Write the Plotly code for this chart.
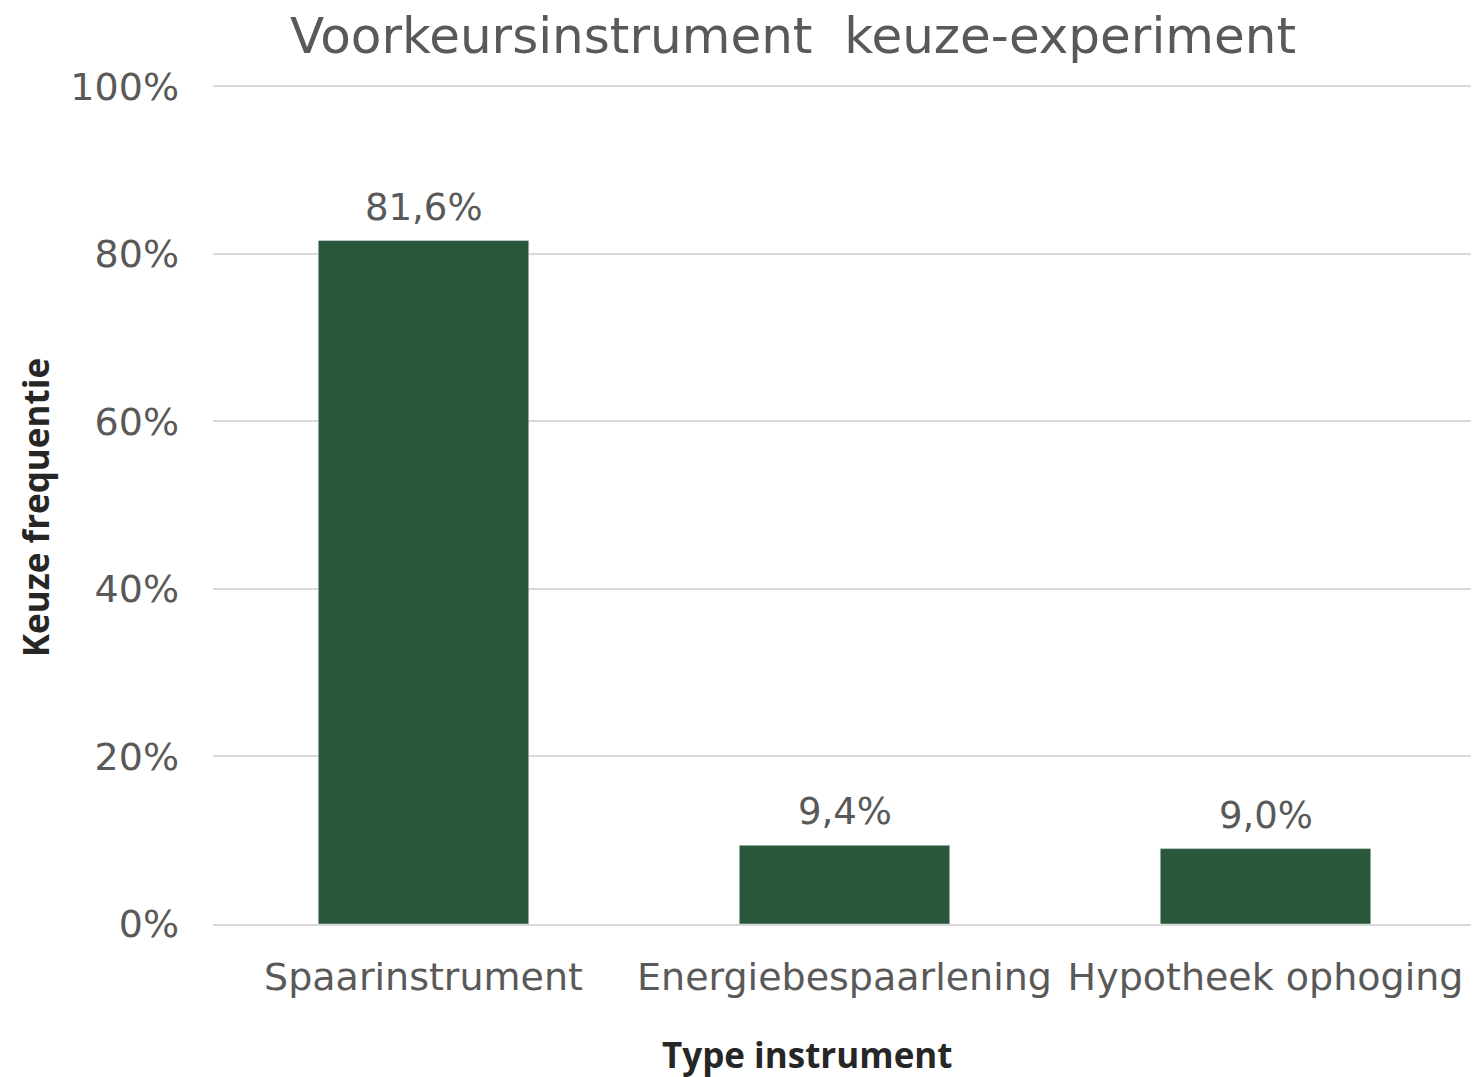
import plotly.graph_objects as go

categories = ["Spaarinstrument", "Energiebespaarlening", "Hypotheek ophoging"]
values = [0.816, 0.094, 0.090]
tick_vals = [0, 0.2, 0.4, 0.6, 0.8, 1.0]

GREEN = "#28573A"
GREY = "#595959"

# page body has an 8px margin; figure laid out in its own coordinates
W, H = 1471, 1069
YMAX = 1.01
L, R_EDGE, BOTTOM = 205, 1468, 916
TOP = BOTTOM - (BOTTOM - 78) * YMAX

fig = go.Figure(go.Bar(
    x=categories, y=values, marker_color=GREEN, width=0.5,
))

for c, v in zip(categories, values):
    fig.add_annotation(x=c, y=v, xref="x", yref="y", text=f"{v*100:.1f}%".replace(".", ","),
                       showarrow=False, yanchor="bottom", yshift=10,
                       font=dict(family="DejaVu Sans", size=37, color=GREY))

fig.add_annotation(x=(799 - L) / (R_EDGE - L), y=(BOTTOM - 1047) / (BOTTOM - TOP),
                   xref="paper", yref="paper", text="<b>Type instrument</b>",
                   showarrow=False, xanchor="center", yanchor="middle",
                   font=dict(family="Open Sans", size=35, color="#262626"))

fig.add_annotation(x=(27 - L) / (R_EDGE - L), y=(BOTTOM - 500) / (BOTTOM - TOP),
                   xref="paper", yref="paper", text="<b>Keuze frequentie</b>", textangle=-90,
                   showarrow=False, xanchor="center", yanchor="middle",
                   font=dict(family="Open Sans", size=35, color="#262626"))

fig.update_layout(
    width=W, height=H,
    separators=",.",
    paper_bgcolor="white", plot_bgcolor="white",
    margin=dict(l=L, r=W - R_EDGE, t=TOP, b=H - BOTTOM, autoexpand=False),
    showlegend=False,
    title=dict(text="Voorkeursinstrument  keuze-experiment", xref="container", x=785 / W,
               xanchor="center", y=1 - 27 / H, yanchor="middle",
               font=dict(family="DejaVu Sans", size=50, color=GREY)),
    font=dict(family="DejaVu Sans", color=GREY),
)
fig.update_yaxes(range=[0, YMAX], tickvals=tick_vals, tickformat=".0%", automargin=False,
                 showgrid=True, gridcolor="#D9D9D9", gridwidth=2,
                 zeroline=False, showline=False, ticks="", ticklabelstandoff=33,
                 tickfont=dict(family="DejaVu Sans", size=38, color=GREY))
fig.update_xaxes(showline=True, linecolor="#D9D9D9", linewidth=2, ticks="", ticklabelstandoff=18,
                 automargin=False,
                 tickfont=dict(family="DejaVu Sans", size=38, color=GREY))

fig.write_html("out.html")
